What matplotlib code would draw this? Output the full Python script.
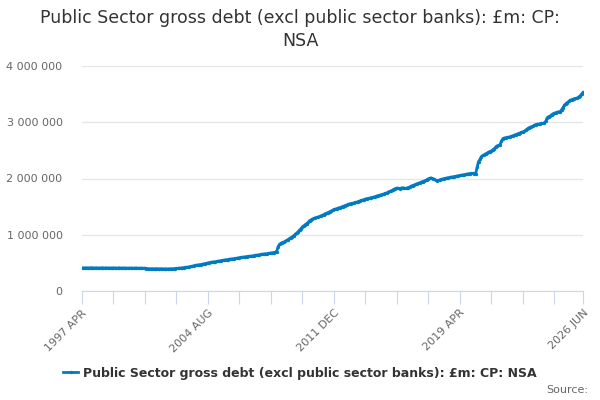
import numpy as np
import matplotlib.pyplot as plt
from matplotlib.ticker import FuncFormatter, FixedLocator

plt.rcParams['font.family'] = ['DejaVu Sans']

# monthly values in £bn, by calendar year (1997 starts in April, 2026 ends in June)
debt_bn = [
    [408, 412, 410, 413, 411, 409, 414, 412, 410],                          # 1997
    [409, 412, 410, 408, 411, 413, 410, 409, 412, 411, 408, 410],           # 1998
    [409, 411, 410, 407, 410, 412, 409, 408, 410, 409, 406, 408],           # 1999
    [407, 409, 408, 405, 407, 410, 406, 405, 408, 406, 403, 405],           # 2000
    [400, 398, 396, 395, 397, 394, 395, 397, 394, 393, 396, 395],           # 2001
    [393, 395, 394, 392, 395, 396, 394, 397, 399, 402, 404, 405],           # 2002
    [408, 412, 415, 418, 422, 425, 430, 436, 440, 448, 455, 460],           # 2003
    [462, 468, 470, 476, 482, 488, 492, 500, 505, 510, 514, 518],           # 2004
    [520, 525, 528, 534, 540, 545, 548, 552, 556, 560, 565, 568],           # 2005
    [570, 575, 578, 582, 588, 592, 598, 600, 604, 608, 612, 615],           # 2006
    [617, 620, 624, 628, 632, 638, 640, 645, 650, 654, 658, 660],           # 2007
    [662, 668, 672, 676, 680, 684, 690, 700, 790, 830, 850, 860],           # 2008
    [870, 885, 900, 915, 935, 950, 965, 985, 1010, 1030, 1055, 1085],       # 2009
    [1110, 1140, 1160, 1180, 1200, 1220, 1250, 1265, 1280, 1290, 1300, 1310],
    [1315, 1325, 1335, 1345, 1360, 1375, 1385, 1395, 1410, 1420, 1435, 1450],
    [1455, 1465, 1475, 1480, 1490, 1500, 1510, 1520, 1530, 1540, 1550, 1555],
    [1560, 1565, 1575, 1580, 1590, 1600, 1610, 1615, 1625, 1635, 1640, 1645],
    [1650, 1660, 1665, 1670, 1680, 1690, 1695, 1705, 1710, 1720, 1725, 1735],
    [1745, 1760, 1770, 1780, 1795, 1810, 1820, 1830, 1825, 1820, 1830, 1835],
    [1830, 1825, 1830, 1840, 1850, 1865, 1875, 1885, 1895, 1905, 1915, 1925],
    [1935, 1945, 1955, 1965, 1980, 1995, 2005, 2010, 2000, 1985, 1970, 1960],
    [1965, 1975, 1985, 1990, 2000, 2005, 2010, 2015, 2020, 2025, 2030, 2035],
    [2040, 2045, 2050, 2055, 2060, 2065, 2070, 2075, 2080, 2085, 2088, 2090],
    [2092, 2085, 2080, 2200, 2300, 2340, 2390, 2410, 2420, 2440, 2450, 2470],
    [2480, 2490, 2510, 2530, 2560, 2580, 2590, 2600, 2660, 2710, 2720, 2725],
    [2730, 2735, 2740, 2750, 2760, 2770, 2780, 2790, 2800, 2810, 2820, 2830],
    [2840, 2860, 2880, 2900, 2910, 2920, 2930, 2945, 2960, 2965, 2970, 2975],
    [2978, 2980, 2990, 3020, 3080, 3100, 3110, 3130, 3150, 3160, 3170, 3180],
    [3185, 3190, 3220, 3260, 3300, 3330, 3350, 3370, 3390, 3400, 3410, 3420],
    [3425, 3430, 3450, 3470, 3500, 3530],                                   # 2026
]
label_months = ['1997 APR', '2004 AUG', '2011 DEC', '2019 APR', '2026 JUN']
series_name = 'Public Sector gross debt (excl public sector banks): £m: CP: NSA'

values = np.array([v for row in debt_bn for v in row]) * 1000  # £m
n = len(values)
x = np.arange(n)

fig = plt.figure(figsize=(6, 4), dpi=100)
ax = fig.add_axes([82 / 600, 1 - 291 / 400, (583 - 82) / 600, (291 - 66) / 400])

blue = '#007ac3'
ax.plot(x, values, color=blue, lw=2, marker='o', ms=2.4, mew=0, zorder=3,
        label=series_name)

ax.set_xlim(0, n - 1)
ax.set_ylim(0, 4000000)
ax.set_yticks(np.arange(0, 4000001, 1000000))
ax.yaxis.set_major_formatter(FuncFormatter(lambda v, p: f'{int(v):,}'.replace(',', ' ')))
ax.grid(axis='y', color='#e6e6e6', lw=1)
ax.set_axisbelow(True)

# ticks every 22 months plus the last month; labels every 88 months
ticks = list(range(0, n - 1, 22)) + [n - 1]
ax.xaxis.set_major_locator(FixedLocator(ticks))
lab_pos = [0, 88, 176, 264, n - 1]
ax.set_xticklabels([label_months[lab_pos.index(t)] if t in lab_pos else '' for t in ticks],
                   rotation=45, ha='right', rotation_mode='anchor')

for s in ['top', 'right', 'left']:
    ax.spines[s].set_visible(False)
ax.spines['bottom'].set_color('#ccd6eb')
ax.tick_params(axis='x', colors='#ccd6eb', length=9, labelcolor='#666666',
               labelsize=8, pad=3)
ax.tick_params(axis='y', length=0, labelcolor='#666666', labelsize=8, pad=14)

fig.text(0.5, 1 - 18 / 400, 'Public Sector gross debt (excl public sector banks): £m: CP:',
         ha='center', va='center', fontsize=12.5, color='#333333')
fig.text(0.5, 1 - 41 / 400, 'NSA', ha='center', va='center', fontsize=12.5, color='#333333')

leg = fig.legend(loc='center', bbox_to_anchor=(0.5, 1 - 373 / 400), frameon=False,
                 handlelength=1.2, handletextpad=0.4, prop={'weight': 'bold', 'size': 9})
for t in leg.get_texts():
    t.set_color('#333333')
fig.text(588 / 600, 1 - 390 / 400, 'Source:', ha='right', va='center', fontsize=8,
         color='#666666')

fig.savefig('out.png', dpi=100)
